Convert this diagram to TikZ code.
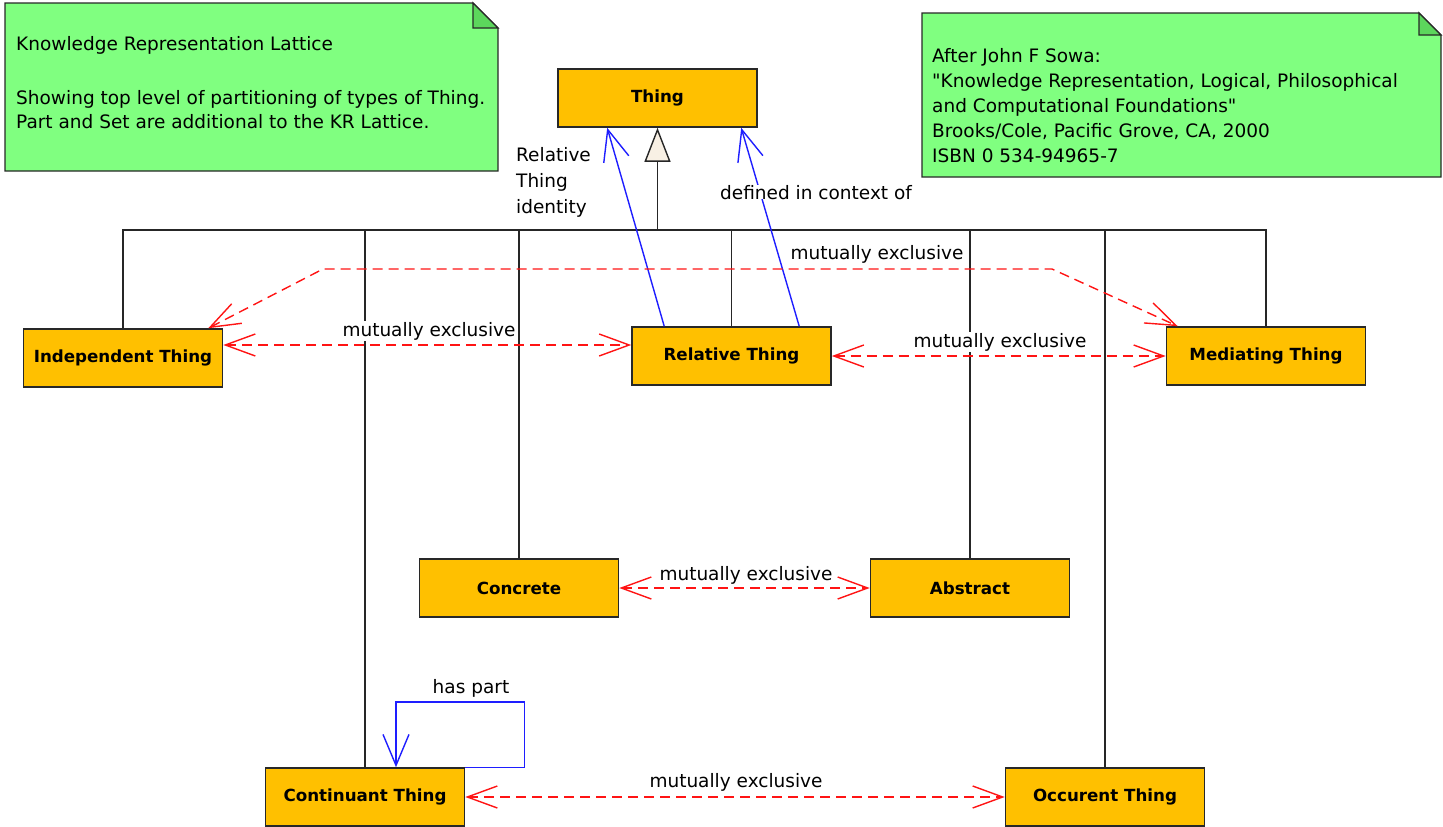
\documentclass[tikz,border=0pt]{standalone}
\usepackage{fontspec}
\setmainfont{DejaVu Sans}[Ligatures=TeXOff]
\usetikzlibrary{arrows.meta,calc}

\definecolor{clsfill}{RGB}{255,192,0}
\definecolor{clsline}{RGB}{40,40,40}
\definecolor{notefill}{RGB}{128,255,128}
\definecolor{notefoldfill}{RGB}{92,214,92}
\definecolor{exred}{RGB}{255,20,20}
\definecolor{assocblue}{RGB}{30,30,255}
\definecolor{genfill}{RGB}{248,240,228}

\newcommand\plainsize{\fontsize{18.5}{24}\selectfont}
\newcommand\clssize{\fontsize{16.7}{20}\selectfont\bfseries}

\tikzset{
  cls/.style={draw=clsline, line width=1.6pt, fill=clsfill,
    minimum width=199pt, minimum height=58pt, inner sep=0pt, font=\clssize},
  notebody/.style={draw=clsline, line width=1.3pt, fill=notefill, line join=miter},
  notefold/.style={draw=clsline, line width=1.3pt, fill=notefoldfill},
  notetext/.style={align=left, inner sep=0pt, anchor=north west, font=\plainsize},
  lbl/.style={fill=white, inner sep=1.5pt, font=\plainsize},
  bus/.style={draw=black!85, line width=1.4pt},
  gen/.style={bus, -{Triangle[length=34pt,width=26pt,fill=genfill]}},
  mutex/.style={draw=exred, line width=1.4pt, dash pattern=on 10pt off 6pt,
    {Straight Barb[length=30pt,width=22pt]}-{Straight Barb[length=30pt,width=22pt]}},
  assoc/.style={draw=assocblue, line width=1.4pt,
    -{Straight Barb[length=31pt,width=26pt]}}
}

\begin{document}
\begin{tikzpicture}[x=1pt,y=-1pt]
\useasboundingbox (0,0) rectangle (1443,827);

% explanatory notes
\path[notebody] (5,3) -- (473,3) -- (498,28) -- (498,171) -- (5,171) -- cycle;
\path[notefold] (473,3) -- (473,28) -- (498,28) -- cycle;
\node[notetext] (note1) at (16,36)
  {Knowledge Representation Lattice\\[30pt]
   Showing top level of partitioning of types of Thing.\\
   Part and Set are additional to the KR Lattice.};

\path[notebody] (922,13) -- (1419,13) -- (1441,35) -- (1441,177) -- (922,177) -- cycle;
\path[notefold] (1419,13) -- (1419,35) -- (1441,35) -- cycle;
\node[notetext, font=\fontsize{18.5}{25}\selectfont] (note2) at (932,48)
  {After John F Sowa:\\
   "Knowledge Representation, Logical, Philosophical\\
   and Computational Foundations"\\
   Brooks/Cole, Pacific Grove, CA, 2000\\
   ISBN 0 534-94965-7};

% classes
\node[cls] (thing) at (657.5,98)  {Thing};
\node[cls] (indep) at (123,358)   {Independent Thing};
\node[cls] (rel)   at (731.5,356) {Relative Thing};
\node[cls] (med)   at (1266,356)  {Mediating Thing};
\node[cls] (conc)  at (519,588)   {Concrete};
\node[cls] (abs)   at (970,588)   {Abstract};
\node[cls] (cont)  at (365,797)   {Continuant Thing};
\node[cls] (occ)   at (1105,797)  {Occurent Thing};

% generalization tree
\coordinate (junction) at (657.5,230);
\foreach \c in {indep,rel,med,conc,abs,cont,occ}
  \draw[bus] (\c.north) |- (junction);
\draw[gen] (junction) -- (thing.south);

% associations to Thing
\draw[assoc] ([xshift=33pt]rel.north west) -- ([xshift=50pt]thing.south west);
\draw[assoc] ([xshift=168pt]rel.north west) -- ([xshift=184pt]thing.south west);
\node[notetext, font=\fontsize{18.5}{26}\selectfont] (relid) at (516,147)
  {Relative\\Thing\\identity};
\node[lbl, anchor=base west, inner sep=0pt] (ctx) at (720,199) {defined in context of};

% has part
\draw[assoc] (cont.north east) -- ++(59,0) |- (396,702)
  -- ([xshift=31pt]cont.north);
\node[lbl] (haspart) at (471,688) {has part};

% mutual exclusions
\draw[mutex] ([xshift=-15pt]indep.north east) -- (323,269) -- (1052,269)
  -- ([xshift=12pt]med.north west);
\draw[mutex] ([yshift=13pt]indep.east) -- ([yshift=11pt]rel.west);
\draw[mutex] (rel.east) -- (med.west);
\draw[mutex] (conc.east) -- (abs.west);
\draw[mutex] (cont.east) -- (occ.west);

\node[lbl] (mx1) at (877,254) {mutually exclusive};
\node[lbl] (mx2) at (429,331) {mutually exclusive};
\node[lbl] (mx3) at (1000,342) {mutually exclusive};
\node[lbl] (mx4) at (746,575) {mutually exclusive};
\node[lbl] (mx5) at (736,782) {mutually exclusive};
\end{tikzpicture}
\end{document}
